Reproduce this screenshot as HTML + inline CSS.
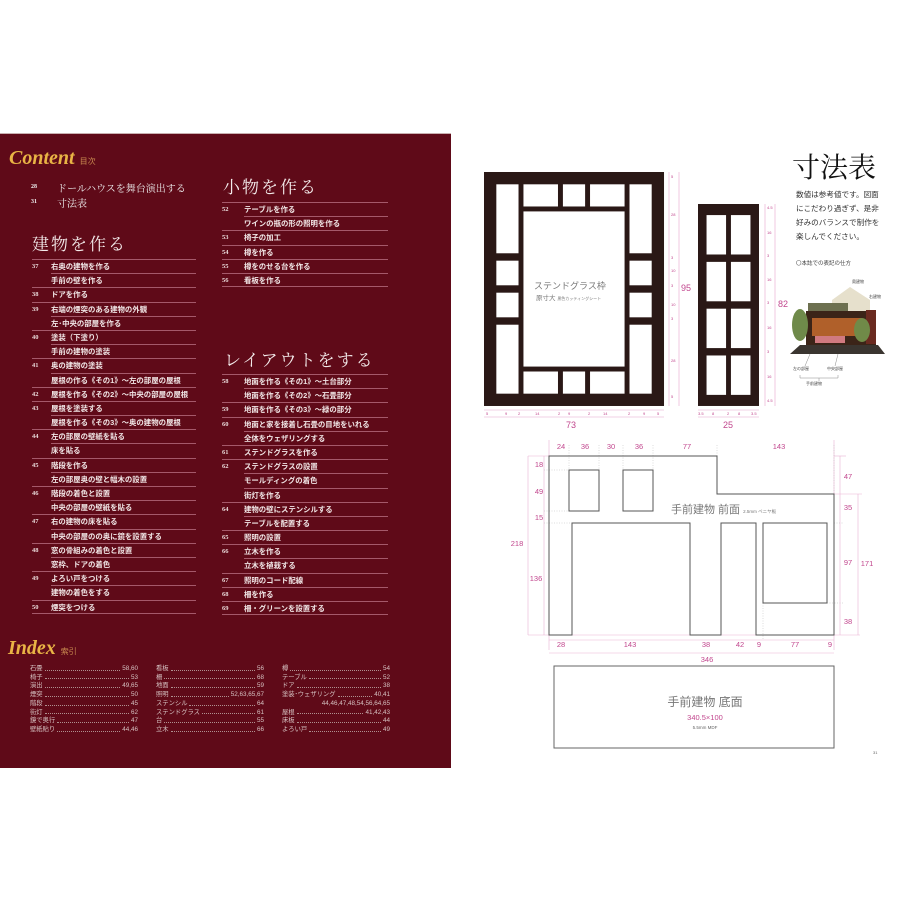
<!DOCTYPE html>
<html><head><meta charset="utf-8">
<style>
*{margin:0;padding:0;box-sizing:border-box}
body{width:900px;height:900px;background:#fff;position:relative;overflow:hidden;font-family:"Liberation Sans","Noto Sans CJK JP",sans-serif}
#lp{position:absolute;left:0;top:133px;width:451px;height:635px;background:#5f0a18;border-top:1px solid #c9b0b0}
.a{position:absolute;white-space:nowrap}
.col{position:absolute}
.r{display:flex;height:14.2px;line-height:14.2px;font-size:7.4px;font-weight:bold;color:#f1e6e6}
.r.f{border-top:1px solid #a5596a}
.r b{display:block;font-family:"Liberation Serif",serif;font-size:6.5px;color:#e8d8d8;font-weight:bold}
.r span{flex:1;display:block}
.r.s span{border-top:1px solid #a5596a}
.r.s{padding-top:0}
.end{border-bottom:1px solid #a5596a}
.h{font-family:"Liberation Serif","Noto Serif CJK SC",serif;color:#f3eaea;font-size:17px;letter-spacing:2px}
.sc{font-family:"Liberation Serif",serif;font-style:italic;color:#e9b445;font-weight:bold}
.ix{position:absolute;width:108px;font-size:6.3px;color:#d6c2c2;line-height:8.7px}
.ix div{display:flex}
.ix i{flex:1;border-bottom:1px dotted #b09090;margin:0 2px 3px;font-style:normal}
</style></head><body>
<div id="lp">
<div class="a sc" style="left:9px;top:13px;font-size:20px">Content <span style="font-style:normal;font-size:8px;color:#c98a50;font-family:'Noto Sans CJK JP',sans-serif;font-weight:normal">目次</span></div>
<div class="a" style="left:31px;top:50px;font-size:6px;color:#eee;font-family:'Liberation Serif',serif;font-weight:bold">28</div>
<div class="a" style="left:57px;top:46px;font-size:10px;color:#eee;font-family:'Noto Serif CJK SC',serif">ドールハウスを舞台演出する</div>
<div class="a" style="left:31px;top:65px;font-size:6px;color:#eee;font-family:'Liberation Serif',serif;font-weight:bold">31</div>
<div class="a" style="left:57px;top:61px;font-size:10px;color:#eee;font-family:'Noto Serif CJK SC',serif">寸法表</div>
<div class="a h" style="left:32px;top:96px">建物を作る</div>
<div class="a h" style="left:223px;top:39px">小物を作る</div>
<div class="a h" style="left:224px;top:212px">レイアウトをする</div>

<div class="col" style="left:32px;top:125px;width:164px">
<div class="r f"><b style="width:19px">37</b><span>右奥の建物を作る</span></div>
<div class="r s"><b style="width:19px"></b><span>手前の壁を作る</span></div>
<div class="r f"><b style="width:19px">38</b><span>ドアを作る</span></div>
<div class="r f"><b style="width:19px">39</b><span>右端の煙突のある建物の外観</span></div>
<div class="r s"><b style="width:19px"></b><span>左･中央の部屋を作る</span></div>
<div class="r f"><b style="width:19px">40</b><span>塗装（下塗り）</span></div>
<div class="r s"><b style="width:19px"></b><span>手前の建物の塗装</span></div>
<div class="r f"><b style="width:19px">41</b><span>奥の建物の塗装</span></div>
<div class="r s"><b style="width:19px"></b><span>屋根の作る《その1》～左の部屋の屋根</span></div>
<div class="r f"><b style="width:19px">42</b><span>屋根を作る《その2》～中央の部屋の屋根</span></div>
<div class="r f"><b style="width:19px">43</b><span>屋根を塗装する</span></div>
<div class="r s"><b style="width:19px"></b><span>屋根を作る《その3》～奥の建物の屋根</span></div>
<div class="r f"><b style="width:19px">44</b><span>左の部屋の壁紙を貼る</span></div>
<div class="r s"><b style="width:19px"></b><span>床を貼る</span></div>
<div class="r f"><b style="width:19px">45</b><span>階段を作る</span></div>
<div class="r s"><b style="width:19px"></b><span>左の部屋奥の壁と幅木の設置</span></div>
<div class="r f"><b style="width:19px">46</b><span>階段の着色と設置</span></div>
<div class="r s"><b style="width:19px"></b><span>中央の部屋の壁紙を貼る</span></div>
<div class="r f"><b style="width:19px">47</b><span>右の建物の床を貼る</span></div>
<div class="r s"><b style="width:19px"></b><span>中央の部屋のの奥に鏡を設置する</span></div>
<div class="r f"><b style="width:19px">48</b><span>窓の骨組みの着色と設置</span></div>
<div class="r s"><b style="width:19px"></b><span>窓枠、ドアの着色</span></div>
<div class="r f"><b style="width:19px">49</b><span>よろい戸をつける</span></div>
<div class="r s"><b style="width:19px"></b><span>建物の着色をする</span></div>
<div class="r f end"><b style="width:19px">50</b><span>煙突をつける</span></div>
</div>

<div class="col" style="left:222px;top:68px;width:166px">
<div class="r f"><b style="width:22px">52</b><span>テーブルを作る</span></div>
<div class="r s"><b style="width:22px"></b><span>ワインの瓶の形の照明を作る</span></div>
<div class="r f"><b style="width:22px">53</b><span>椅子の加工</span></div>
<div class="r f"><b style="width:22px">54</b><span>樽を作る</span></div>
<div class="r f"><b style="width:22px">55</b><span>樽をのせる台を作る</span></div>
<div class="r f end"><b style="width:22px">56</b><span>看板を作る</span></div>
</div>

<div class="col" style="left:222px;top:240px;width:166px">
<div class="r f"><b style="width:22px">58</b><span>地面を作る《その1》～土台部分</span></div>
<div class="r s"><b style="width:22px"></b><span>地面を作る《その2》～石畳部分</span></div>
<div class="r f"><b style="width:22px">59</b><span>地面を作る《その3》～緑の部分</span></div>
<div class="r f"><b style="width:22px">60</b><span>地面と家を接着し石畳の目地をいれる</span></div>
<div class="r s"><b style="width:22px"></b><span>全体をウェザリングする</span></div>
<div class="r f"><b style="width:22px">61</b><span>ステンドグラスを作る</span></div>
<div class="r f"><b style="width:22px">62</b><span>ステンドグラスの設置</span></div>
<div class="r s"><b style="width:22px"></b><span>モールディングの着色</span></div>
<div class="r s"><b style="width:22px"></b><span>街灯を作る</span></div>
<div class="r f"><b style="width:22px">64</b><span>建物の壁にステンシルする</span></div>
<div class="r s"><b style="width:22px"></b><span>テーブルを配置する</span></div>
<div class="r f"><b style="width:22px">65</b><span>照明の設置</span></div>
<div class="r f"><b style="width:22px">66</b><span>立木を作る</span></div>
<div class="r s"><b style="width:22px"></b><span>立木を植栽する</span></div>
<div class="r f"><b style="width:22px">67</b><span>照明のコード配線</span></div>
<div class="r f"><b style="width:22px">68</b><span>柵を作る</span></div>
<div class="r f end"><b style="width:22px">69</b><span>柵・グリーンを設置する</span></div>
</div>

<div class="a sc" style="left:8px;top:503px;font-size:20px">Index <span style="font-style:normal;font-size:8px;color:#c98a50;font-family:'Noto Sans CJK JP',sans-serif;font-weight:normal">索引</span></div>
<div class="ix" style="left:30px;top:531px">
<div>石畳<i></i>58,60</div><div>椅子<i></i>53</div><div>演出<i></i>49,65</div><div>煙突<i></i>50</div><div>階段<i></i>45</div><div>街灯<i></i>62</div><div>鏡で奥行<i></i>47</div><div>壁紙貼り<i></i>44,46</div>
</div>
<div class="ix" style="left:156px;top:531px">
<div>看板<i></i>56</div><div>柵<i></i>68</div><div>地面<i></i>59</div><div>照明<i></i>52,63,65,67</div><div>ステンシル<i></i>64</div><div>ステンドグラス<i></i>61</div><div>台<i></i>55</div><div>立木<i></i>66</div>
</div>
<div class="ix" style="left:282px;top:531px">
<div>樽<i></i>54</div><div>テーブル<i></i>52</div><div>ドア<i></i>38</div><div>塗装･ウェザリング<i></i>40,41</div><div style="justify-content:flex-end">44,46,47,48,54,56,64,65</div><div>屋根<i></i>41,42,43</div><div>床板<i></i>44</div><div>よろい戸<i></i>49</div>
</div>
</div>

<svg style="position:absolute;left:0;top:0" width="900" height="900" viewBox="0 0 900 900" font-family="Liberation Sans, Noto Sans CJK JP, sans-serif">
<!-- big window -->
<g transform="translate(484,172) scale(2.466,2.463)">
<rect x="0" y="0" width="73" height="95" fill="#2a1816"/>
<g fill="#fff">
<rect x="5" y="5" width="9" height="28"/><rect x="5" y="36" width="9" height="10"/><rect x="5" y="49" width="9" height="10"/><rect x="5" y="62" width="9" height="28"/>
<rect x="59" y="5" width="9" height="28"/><rect x="59" y="36" width="9" height="10"/><rect x="59" y="49" width="9" height="10"/><rect x="59" y="62" width="9" height="28"/>
<rect x="16" y="5" width="14" height="9"/><rect x="32" y="5" width="9" height="9"/><rect x="43" y="5" width="14" height="9"/>
<rect x="16" y="81" width="14" height="9"/><rect x="32" y="81" width="9" height="9"/><rect x="43" y="81" width="14" height="9"/>
<rect x="16" y="16" width="41" height="63"/>
</g></g>
<text x="534" y="289" font-size="9" fill="#777">ステンドグラス枠</text>
<text x="536" y="300" font-size="6.5" fill="#777">原寸大 <tspan font-size="4">黒色カッティングシート</tspan></text>
<!-- small window -->
<g transform="translate(698,204) scale(2.44,2.463)">
<rect width="25" height="82" fill="#2a1816"/>
<g fill="#fff">
<rect x="3.5" y="4.5" width="8" height="16"/><rect x="13.5" y="4.5" width="8" height="16"/>
<rect x="3.5" y="23.5" width="8" height="16"/><rect x="13.5" y="23.5" width="8" height="16"/>
<rect x="3.5" y="42.5" width="8" height="16"/><rect x="13.5" y="42.5" width="8" height="16"/>
<rect x="3.5" y="61.5" width="8" height="16"/><rect x="13.5" y="61.5" width="8" height="16"/>
</g></g>
<g stroke="#e6a6cc" stroke-width="0.6" fill="none">
<line x1="669" y1="172" x2="669" y2="406"/><line x1="679" y1="172" x2="679" y2="406"/>
<line x1="484" y1="410" x2="664" y2="410"/><line x1="484" y1="417" x2="664" y2="417"/>
<line x1="765" y1="204" x2="765" y2="406"/><line x1="775" y1="204" x2="775" y2="406"/>
<line x1="698" y1="410" x2="759" y2="410"/><line x1="698" y1="417" x2="759" y2="417"/>
</g>
<g font-size="4" fill="#c2478e">
<text x="671" y="178">5</text><text x="671" y="216">28</text><text x="671" y="259">3</text><text x="671" y="272">10</text><text x="671" y="287">3</text><text x="671" y="306">10</text><text x="671" y="320">3</text><text x="671" y="362">28</text><text x="671" y="398">5</text>
<text x="486" y="415">5</text><text x="505" y="415">9</text><text x="518" y="415">2</text><text x="535" y="415">14</text><text x="558" y="415">2</text><text x="568" y="415">9</text><text x="588" y="415">2</text><text x="603" y="415">14</text><text x="628" y="415">2</text><text x="643" y="415">9</text><text x="657" y="415">5</text>
<text x="767" y="209">4.5</text><text x="767" y="234">16</text><text x="767" y="257">3</text><text x="767" y="281">16</text><text x="767" y="304">3</text><text x="767" y="329">16</text><text x="767" y="353">3</text><text x="767" y="378">16</text><text x="767" y="402">4.5</text>
<text x="698" y="415">3.5</text><text x="712" y="415">8</text><text x="727" y="415">2</text><text x="738" y="415">8</text><text x="751" y="415">3.5</text>
</g>
<g font-size="9" fill="#c2478e">
<text x="681" y="291">95</text><text x="566" y="428">73</text><text x="778" y="307">82</text><text x="723" y="428">25</text>
</g>
<text x="792" y="177" font-size="28" fill="#111" font-family="Liberation Serif, Noto Serif CJK SC, serif">寸法表</text>
<g font-size="7.6" fill="#333">
<text x="796" y="197">数値は参考値です。図面</text><text x="796" y="211">にこだわり過ぎず、是非</text><text x="796" y="225">好みのバランスで制作を</text><text x="796" y="239">楽しんでください。</text>
</g>
<text x="796" y="265" font-size="5.5" fill="#444">〇本誌での表記の仕方</text>
<!-- photo -->
<g>
<polygon points="790,354 885,354 878,345 800,345" fill="#3a3530"/>
<polygon points="832,300 850,287 870,300 870,318 832,318" fill="#e6e0cc"/>
<rect x="808" y="303" width="40" height="8" fill="#6d7050"/>
<rect x="806" y="311" width="70" height="34" fill="#3b2418"/>
<rect x="812" y="318" width="50" height="18" fill="#b0602a"/>
<rect x="866" y="310" width="10" height="34" fill="#6a2a20"/>
<ellipse cx="800" cy="325" rx="8" ry="16" fill="#6f8a4a"/>
<ellipse cx="862" cy="330" rx="8" ry="12" fill="#708a48"/>
<rect x="815" y="336" width="30" height="7" fill="#d07a80"/>
</g>
<g font-size="4" fill="#444"><text x="852" y="283">奥建物</text><text x="869" y="298">右建物</text><text x="793" y="370">左の部屋</text><text x="827" y="370">中央部屋</text><text x="806" y="385">手前建物</text></g>
<g stroke="#888" stroke-width="0.5" fill="none"><path d="M800,375 V378 H838 V375 M819,378 V381"/><line x1="805" y1="366" x2="810" y2="354"/><line x1="835" y1="366" x2="838" y2="354"/></g>

<!-- front -->
<g stroke="#eab2d2" stroke-width="0.6" fill="none">
<line x1="549" y1="440" x2="549" y2="650"/><line x1="834" y1="440" x2="834" y2="650"/>
<line x1="528" y1="456" x2="717" y2="456"/><line x1="528" y1="635" x2="860" y2="635"/>
<line x1="528" y1="456" x2="528" y2="635"/><line x1="544" y1="456" x2="544" y2="635"/>
<line x1="840" y1="456" x2="840" y2="635"/><line x1="858" y1="494" x2="858" y2="635"/>
<line x1="549" y1="640" x2="834" y2="640"/><line x1="549" y1="653" x2="834" y2="653"/>
<line x1="834" y1="456" x2="846" y2="456"/><line x1="834" y1="494" x2="862" y2="494"/>
</g>
<g stroke="#bbb" stroke-width="0.5" stroke-dasharray="1,1.5" fill="none">
<line x1="569" y1="445" x2="569" y2="470"/><line x1="599" y1="445" x2="599" y2="470"/><line x1="623" y1="445" x2="623" y2="470"/><line x1="653" y1="445" x2="653" y2="470"/><line x1="717" y1="445" x2="717" y2="456"/><line x1="834" y1="445" x2="834" y2="494"/>
<line x1="544" y1="470" x2="569" y2="470"/><line x1="544" y1="511" x2="569" y2="511"/><line x1="544" y1="523" x2="572" y2="523"/>
<line x1="834" y1="523" x2="844" y2="523"/><line x1="827" y1="603" x2="844" y2="603"/><line x1="763" y1="603" x2="763" y2="640"/>
</g>
<path d="M549,456 H717 V494 H834 V635 H756 V523 H721 V635 H690 V523 H572 V635 H549 Z" fill="none" stroke="#555" stroke-width="1"/>
<rect x="569" y="470" width="30" height="41" fill="none" stroke="#555"/>
<rect x="623" y="470" width="30" height="41" fill="none" stroke="#555"/>
<rect x="763" y="523" width="64" height="80" fill="none" stroke="#555"/>
<text x="671" y="513" font-size="11" fill="#777">手前建物 前面 <tspan font-size="4.5">2.5mm ベニヤ板</tspan></text>
<g font-size="7.5" fill="#c2478e" text-anchor="middle">
<text x="561" y="449">24</text><text x="585" y="449">36</text><text x="611" y="449">30</text><text x="639" y="449">36</text><text x="687" y="449">77</text><text x="779" y="449">143</text>
<text x="539" y="467">18</text><text x="539" y="494">49</text><text x="539" y="520">15</text><text x="536" y="581">136</text><text x="517" y="546">218</text>
<text x="848" y="479">47</text><text x="848" y="510">35</text><text x="848" y="565">97</text><text x="848" y="624">38</text><text x="867" y="566">171</text>
<text x="561" y="647">28</text><text x="630" y="647">143</text><text x="706" y="647">38</text><text x="740" y="647">42</text><text x="759" y="647">9</text><text x="795" y="647">77</text><text x="830" y="647">9</text>
<text x="707" y="662">346</text>
</g>
<rect x="554" y="666" width="280" height="82" fill="none" stroke="#666"/>
<text x="705" y="706" font-size="12" fill="#777" text-anchor="middle">手前建物 底面</text>
<text x="705" y="720" font-size="7.5" fill="#c2478e" text-anchor="middle">340.5×100</text>
<text x="705" y="729" font-size="4.5" fill="#666" text-anchor="middle">5.5mm MDF</text>
<text x="873" y="754" font-size="4" fill="#666">31</text>
</svg>
</body></html>
